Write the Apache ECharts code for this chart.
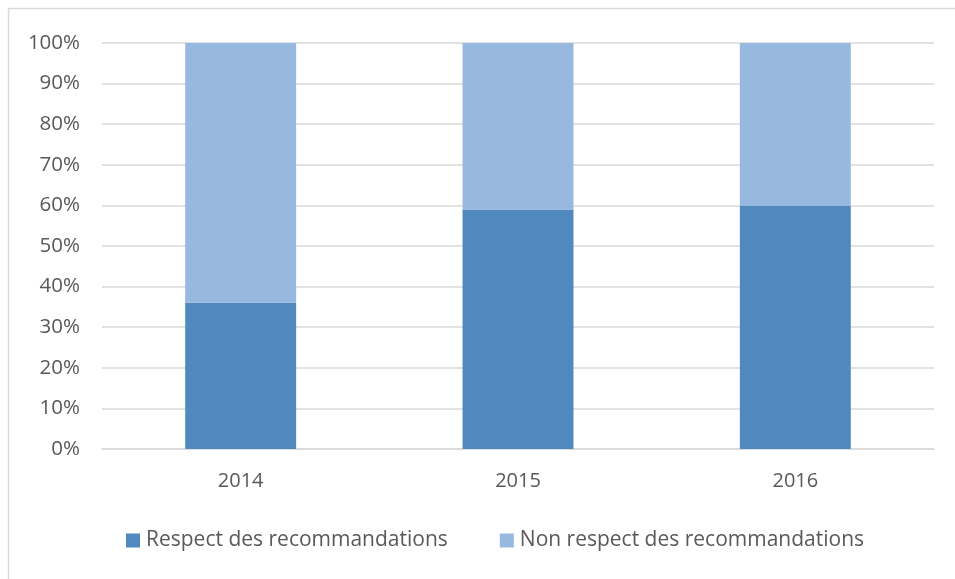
<!DOCTYPE html>
<html><head><meta charset="utf-8">
<script src="https://cdn.jsdelivr.net/npm/echarts@6/dist/echarts.min.js"></script>
<style>html,body{margin:0;padding:0;background:#fff}#c{width:955px;height:579px}</style>
</head><body><div id="c"></div>
<script>
const categories = ['2014', '2015', '2016'];
const respect = [36, 59, 60];
const nonRespect = [64, 41, 40];
const seriesNames = ['Respect des recommandations', 'Non respect des recommandations'];

const chart = echarts.init(document.getElementById('c'));
const font = '"Open Sans", sans-serif';
chart.setOption({
  animation: false,
  graphic: [{type: 'rect', shape: {x: 8.5, y: 8.5, width: 1000, height: 1000}, style: {fill: 'none', stroke: '#d9d9d9', lineWidth: 1.5}}],
  grid: {left: 102, right: 21, top: 43, bottom: 130},
  legend: {
    top: 525, left: 121, itemWidth: 14, itemHeight: 14, itemGap: 52,
    icon: 'rect',
    textStyle: {color: '#595959', fontSize: 21, fontFamily: font, padding: [0,0,0,1]},
    data: seriesNames
  },
  xAxis: {
    type: 'category', data: categories,
    axisLine: {lineStyle: {color: '#d9d9d9', width: 1.5}},
    axisTick: {show: false},
    axisLabel: {color: '#595959', fontSize: 20, fontFamily: font, margin: 22}
  },
  yAxis: {
    type: 'value', min: 0, max: 100, interval: 10,
    axisLine: {show: false}, axisTick: {show: false},
    axisLabel: {color: '#595959', fontSize: 20.5, fontFamily: font, formatter: '{value}%', margin: 22},
    splitLine: {lineStyle: {color: '#d9d9d9', width: 1.5}}
  },
  series: [
    {name: seriesNames[0], type: 'bar', stack: 'a', data: respect, barWidth: '40%', itemStyle: {color: '#4F89BD'}},
    {name: seriesNames[1], type: 'bar', stack: 'a', data: nonRespect, barWidth: '40%', itemStyle: {color: '#97B8DF'}}
  ]
});
</script></body></html>
